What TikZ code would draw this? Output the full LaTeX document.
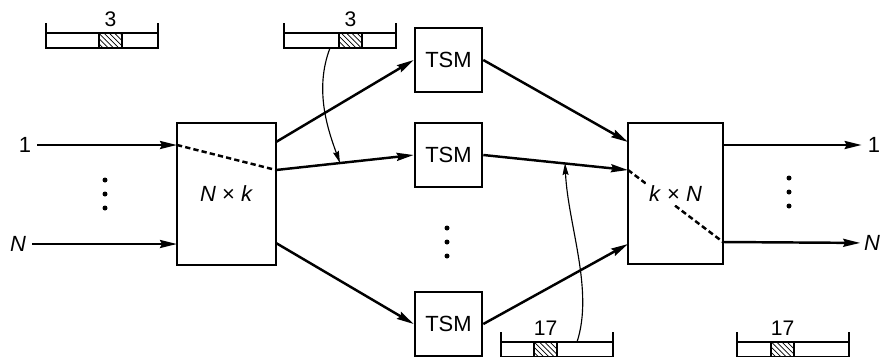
\documentclass[tikz,border=0pt]{standalone}
\usepackage{fontspec}
\setmainfont{Liberation Sans}
\usepackage{tikz}
\usetikzlibrary{arrows.meta,patterns}
\newcommand{\lf}{\fontsize{12.5}{14}\selectfont}
\newcommand{\nf}{\fontsize{12}{13}\selectfont}
% time frame: #1 = left x, #2 = top of bar, #3 = slot offset, #4 = slot number, #5 = node name
\newcommand{\tframe}[5]{%
  \draw[frm] (#1,#2-10) -- (#1,#2+15) -- (#1+112,#2+15) -- (#1+112,#2-10);
  \draw[frm] (#1,#2) -- (#1+112,#2);
  \filldraw[frm, pattern=north west lines] (#1+#3,#2) rectangle (#1+#3+23,#2+15);
  \node[font=\nf] (#5) at (#1+#3+11.5,#2-14) {#4};
}

\begin{document}
\begin{tikzpicture}[x=0.02cm, y=-0.02cm, font=\lf,
  box/.style={draw, line width=1.5pt, fill=white, inner sep=0pt},
  frm/.style={line width=1.3pt},
  arr/.style={line width=1.4pt, -{Stealth[length=3.4mm, width=1.6mm, inset=0.4mm]}},
  tharr/.style={line width=0.65pt, -{Stealth[length=2.4mm, width=1.2mm, inset=0.3mm]}},
  sw/.style={line width=1.4pt, dash pattern=on 3pt off 1.8pt}]
\useasboundingbox (0,0) rectangle (882,356);
% ---- switches and time slot interchangers
\node[box, minimum width=1.98cm, minimum height=2.84cm] (nk) at (226.5,194) {\textit{N} × \textit{k}};
\node[box, minimum width=1.9cm, minimum height=2.82cm] (kn) at (675.5,193.5) {};
\node[box, minimum width=1.34cm, minimum height=1.28cm] (tsm1) at (448.5,60) {TSM};
\node[box, minimum width=1.34cm, minimum height=1.28cm] (tsm2) at (448.5,155) {TSM};
\node[box, minimum width=1.34cm, minimum height=1.28cm] (tsm3) at (448.5,324) {TSM};
% ports on the switch sides
\coordinate (nki1) at (177,145);
\coordinate (nki2) at (177,244);
\coordinate (nko1) at (276,142);
\coordinate (nko2) at (276,170);
\coordinate (nko3) at (276,243);
\coordinate (kni1) at (628,142);
\coordinate (kni2) at (628,170);
\coordinate (kni3) at (628,244);
\coordinate (kno1) at (723,145);
\coordinate (kno2) at (723,242);
% ---- paths through the switches
\draw[sw] (nki1) -- (nko2);
\draw[sw] (kni2) -- (kno2);
\node[fill=white, inner sep=2pt] (knlab) at (kn) {\textit{k} × \textit{N}};
% ---- inputs
\node (in1) at (25,145) {1};
\node (inn) at (18,244) {\textit{N}};
\draw[arr] (in1) -- (nki1);
\draw[arr] (inn) -- (nki2);
\foreach \y in {180,194,208} \fill (105,\y) circle[radius=0.5mm];
% ---- links to and from the TSMs
\draw[arr] (nko1) -- (tsm1.west);
\draw[arr] (nko2) -- (tsm2.west);
\draw[arr] (nko3) -- (tsm3.west);
\draw[arr] (tsm1.east) -- (kni1);
\draw[arr] (tsm2.east) -- (kni2);
\draw[arr] (tsm3.east) -- (kni3);
\foreach \y in {228,242,256} \fill (447,\y) circle[radius=0.5mm];
% ---- outputs
\node (out1) at (874,145) {1};
\node[inner sep=2pt] (outn) at (872,243) {\textit{N}};
\draw[arr] (kno1) -- (out1);
\draw[arr] (kno2) -- (outn);
\foreach \y in {178,192,206} \fill (789,\y) circle[radius=0.5mm];
% ---- frames with the time slots
\tframe{46}{33}{53}{3}{f1}
\tframe{284}{33}{55}{3}{f2}
\tframe{501}{342}{33}{17}{f3}
\tframe{737}{342}{34}{17}{f4}
\coordinate (c1s) at (330,48);
\coordinate (c1e) at (340,163);
\coordinate (c2s) at (577,342);
\coordinate (c2e) at (565,163);
\draw[tharr] (c1s) .. controls (314,90) and (328,130) .. (c1e);
\draw[tharr] (c2s) .. controls (594,290) and (568,225) .. (c2e);
\end{tikzpicture}
\end{document}
